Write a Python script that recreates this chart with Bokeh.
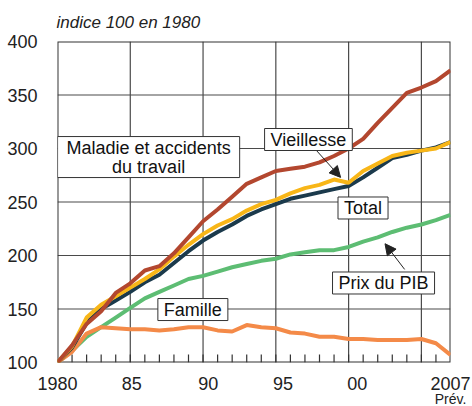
from bokeh.plotting import figure
from bokeh.models import (FixedTicker, Label, Arrow, NormalHead, Range1d, LinearAxis)
from bokeh.embed import file_html
from bokeh.resources import INLINE

years = list(range(1980, 2008))
maladie = [100,116,136,148,165,174,186,190,202,217,232,243,255,267,273,279,281,283,287,293,300,309,324,338,352,357,363,373]
vieillesse = [100,115,142,154,162,170,178,187,199,210,220,228,234,242,248,252,258,263,266,271,268,279,286,293,296,298,300,306]
total = [100,114,137,150,158,166,175,182,193,204,214,222,229,237,243,248,253,256,259,262,265,273,282,291,294,298,301,306]
prix_pib = [100,111,124,133,142,151,160,166,172,178,181,185,189,192,195,197,201,203,205,205,208,213,217,222,226,229,233,238]
famille = [100,110,127,133,132,131,131,130,131,133,133,130,129,135,133,132,128,127,124,124,122,122,121,121,121,122,118,107]

x_tick_pos = [1980, 1985.1, 1990.35, 1995.5, 2000.6, 2007]
x_tick_labels = ["1980", "85", "90", "95", "00", "2007"]
grid_years = [1985, 1990, 1995, 2000, 2005]
minor_years = list(range(1981, 2007))
y_ticks = [100, 150, 200, 250, 300, 350, 400]
X0, X1, Y0, Y1 = 1980, 2007, 100, 400

FONT = "Liberation Sans"
GRID = "#4a4a4a"

p = figure(width=472, height=418, output_backend="svg", toolbar_location=None,
           x_range=Range1d(X0, X1), y_range=Range1d(Y0, Y1),
           min_border_left=57, min_border_right=22, min_border_top=40, min_border_bottom=56)
p.outline_line_color = None
p.xgrid.grid_line_color = None
p.ygrid.grid_line_color = None

p.title.text = "indice 100 en 1980"
p.title.text_font = FONT
p.title.text_font_style = "italic"
p.title.text_font_size = "17px"
p.title.text_color = "#222222"
p.title.align = "left"
p.title.offset = -1
p.title.standoff = 20

# x axis
p.xaxis.ticker = FixedTicker(ticks=x_tick_pos, minor_ticks=[])
p.xaxis.major_label_overrides = dict(zip(x_tick_pos, x_tick_labels))
p.xaxis.major_tick_line_color = None
p.xaxis.minor_tick_line_color = None
p.xaxis.axis_line_color = None
p.xaxis.major_label_standoff = 8
p.xaxis.major_label_text_font = FONT
p.xaxis.major_label_text_font_size = "18px"
p.xaxis.major_label_text_color = "#222222"

prev_axis = LinearAxis(ticker=FixedTicker(ticks=[2007], minor_ticks=[]),
                       major_label_overrides={2007: "Prév."},
                       axis_line_color=None, major_tick_line_color=None,
                       minor_tick_line_color=None, major_label_standoff=-8,
                       major_label_text_font=FONT, major_label_text_font_size="14px",
                       major_label_text_color="#222222")
p.add_layout(prev_axis, "below")

# y axis
p.yaxis.ticker = FixedTicker(ticks=y_ticks, minor_ticks=[])
p.yaxis.major_tick_line_color = None
p.yaxis.minor_tick_line_color = None
p.yaxis.axis_line_color = None
p.yaxis.major_label_standoff = 14
p.yaxis.major_label_text_font = FONT
p.yaxis.major_label_text_font_size = "18px"
p.yaxis.major_label_text_color = "#222222"

# grid drawn as glyphs
inner_y = y_ticks[1:-1]
p.segment(x0=grid_years, y0=[Y0] * len(grid_years), x1=grid_years, y1=[Y1] * len(grid_years),
          line_color=GRID, line_width=1.2, level="underlay")
p.segment(x0=[X0] * len(inner_y), y0=inner_y, x1=[X1] * len(inner_y), y1=inner_y,
          line_color=GRID, line_width=1.2, level="underlay")
# minor ticks (inside, along bottom)
tick_len = 7.5
p.segment(x0=minor_years, y0=[Y0] * len(minor_years), x1=minor_years,
          y1=[Y0 + tick_len] * len(minor_years), line_color="#333333", line_width=1.2)
# frame
p.quad(left=[X0], right=[X1], bottom=[Y0], top=[Y1], fill_color=None,
       line_color="#333333", line_width=2, level="underlay")

LW = 4
p.line(years, prix_pib, line_color="#5dbd73", line_width=LW)
p.line(years, famille, line_color="#f48a48", line_width=LW)
p.line(years, total, line_color="#1b3a4c", line_width=LW)
p.line(years, vieillesse, line_color="#f8b618", line_width=LW)
p.line(years, maladie, line_color="#b3472f", line_width=LW)

def box(x, y, text, hpad=6):
    lab = Label(x=x, y=y, text=text, text_align="center", text_baseline="middle",
                text_font=FONT, text_font_size="18px", text_color="#111111",
                background_fill_color="white", border_line_color="#333333",
                border_line_width=1, padding=(hpad, 1), text_line_height=0.95)
    p.add_layout(lab)

p.add_layout(Arrow(end=NormalHead(size=11, fill_color="#222222", line_color="#222222"),
                   x_start=1997.8, y_start=298, x_end=1999.45, y_end=273,
                   line_color="#222222", line_width=1))
p.add_layout(Arrow(end=NormalHead(size=11, fill_color="#222222", line_color="#222222"),
                   x_start=2003.85, y_start=187, x_end=2002.5, y_end=211,
                   line_color="#222222", line_width=1))

box(1986.26, 292, "Maladie et accidents\ndu travail", hpad=9)
box(1997.24, 308.4, "Vieillesse")
box(2000.99, 244.4, "Total")
box(2002.4, 174.3, "Prix du PIB")
box(1989.3, 149.5, "Famille")

open("out.html", "w").write(file_html(p, INLINE))
